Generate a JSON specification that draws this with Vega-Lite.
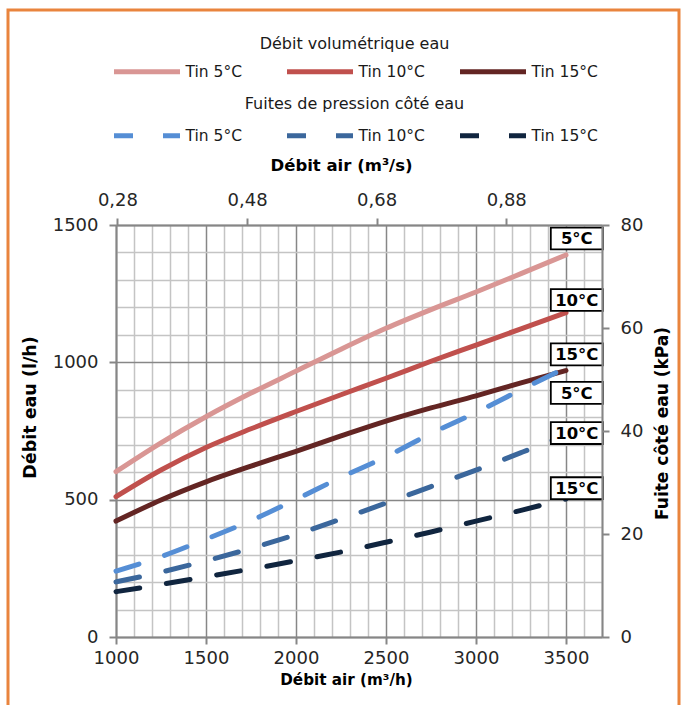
{
  "$schema": "https://vega.github.io/schema/vega-lite/v6.json",
  "width": 671,
  "height": 695,
  "autosize": "none",
  "padding": {"left": 8, "top": 10, "right": 7, "bottom": 1},
  "background": "white",
  "config": {
    "font": "DejaVu Sans",
    "view": {"stroke": "#E9843D", "strokeWidth": 3, "strokeDash": [1366, 671, 700], "fill": "white"},
    "axis": {
      "labelFont": "DejaVu Sans",
      "labelFontSize": 18,
      "labelColor": "#262626",
      "titleFont": "DejaVu Sans",
      "titleFontSize": 16,
      "titleFontWeight": "bold",
      "titleColor": "black",
      "domainColor": "#868686",
      "domainWidth": 2,
      "tickColor": "#868686",
      "tickWidth": 2,
      "tickSize": 7,
      "labelOverlap": false,
      "labelFlush": false,
      "labelBound": false
    },
    "legend": {
      "labelFont": "DejaVu Sans",
      "titleFont": "DejaVu Sans",
      "labelColor": "#1a1a1a",
      "titleColor": "#1a1a1a",
      "titleLimit": 600,
      "labelLimit": 300,
      "padding": 0
    }
  },
  "datasets": {
    "water": [
      {"serie": "Tin 5°C", "air_h": 1000, "debit": 602},
      {"serie": "Tin 5°C", "air_h": 1250, "debit": 707},
      {"serie": "Tin 5°C", "air_h": 1500, "debit": 802},
      {"serie": "Tin 5°C", "air_h": 1750, "debit": 888},
      {"serie": "Tin 5°C", "air_h": 2000, "debit": 968},
      {"serie": "Tin 5°C", "air_h": 2250, "debit": 1048},
      {"serie": "Tin 5°C", "air_h": 2500, "debit": 1124},
      {"serie": "Tin 5°C", "air_h": 2750, "debit": 1192},
      {"serie": "Tin 5°C", "air_h": 3000, "debit": 1256},
      {"serie": "Tin 5°C", "air_h": 3250, "debit": 1323},
      {"serie": "Tin 5°C", "air_h": 3500, "debit": 1391},
      {"serie": "Tin 10°C", "air_h": 1000, "debit": 511},
      {"serie": "Tin 10°C", "air_h": 1250, "debit": 608},
      {"serie": "Tin 10°C", "air_h": 1500, "debit": 690},
      {"serie": "Tin 10°C", "air_h": 1750, "debit": 758},
      {"serie": "Tin 10°C", "air_h": 2000, "debit": 821},
      {"serie": "Tin 10°C", "air_h": 2250, "debit": 882},
      {"serie": "Tin 10°C", "air_h": 2500, "debit": 942},
      {"serie": "Tin 10°C", "air_h": 2750, "debit": 1004},
      {"serie": "Tin 10°C", "air_h": 3000, "debit": 1063},
      {"serie": "Tin 10°C", "air_h": 3250, "debit": 1122},
      {"serie": "Tin 10°C", "air_h": 3500, "debit": 1181},
      {"serie": "Tin 15°C", "air_h": 1000, "debit": 422},
      {"serie": "Tin 15°C", "air_h": 1250, "debit": 499},
      {"serie": "Tin 15°C", "air_h": 1500, "debit": 565},
      {"serie": "Tin 15°C", "air_h": 1750, "debit": 622},
      {"serie": "Tin 15°C", "air_h": 2000, "debit": 676},
      {"serie": "Tin 15°C", "air_h": 2250, "debit": 732},
      {"serie": "Tin 15°C", "air_h": 2500, "debit": 786},
      {"serie": "Tin 15°C", "air_h": 2750, "debit": 834},
      {"serie": "Tin 15°C", "air_h": 3000, "debit": 878},
      {"serie": "Tin 15°C", "air_h": 3250, "debit": 925},
      {"serie": "Tin 15°C", "air_h": 3500, "debit": 970}
    ],
    "pressure": [
      {"serie": "Tin 5°C", "air_s": 0.2778, "kpa": 12.8},
      {"serie": "Tin 5°C", "air_s": 0.3472, "kpa": 15.6},
      {"serie": "Tin 5°C", "air_s": 0.4167, "kpa": 19.0},
      {"serie": "Tin 5°C", "air_s": 0.4861, "kpa": 22.6},
      {"serie": "Tin 5°C", "air_s": 0.5556, "kpa": 26.7},
      {"serie": "Tin 5°C", "air_s": 0.6250, "kpa": 31.0},
      {"serie": "Tin 5°C", "air_s": 0.6944, "kpa": 35.0},
      {"serie": "Tin 5°C", "air_s": 0.7639, "kpa": 39.5},
      {"serie": "Tin 5°C", "air_s": 0.8333, "kpa": 43.6},
      {"serie": "Tin 5°C", "air_s": 0.9028, "kpa": 48.0},
      {"serie": "Tin 5°C", "air_s": 0.9722, "kpa": 52.3},
      {"serie": "Tin 10°C", "air_s": 0.2778, "kpa": 10.7},
      {"serie": "Tin 10°C", "air_s": 0.3472, "kpa": 12.6},
      {"serie": "Tin 10°C", "air_s": 0.4167, "kpa": 14.8},
      {"serie": "Tin 10°C", "air_s": 0.4861, "kpa": 17.2},
      {"serie": "Tin 10°C", "air_s": 0.5556, "kpa": 19.9},
      {"serie": "Tin 10°C", "air_s": 0.6250, "kpa": 22.9},
      {"serie": "Tin 10°C", "air_s": 0.6944, "kpa": 26.0},
      {"serie": "Tin 10°C", "air_s": 0.7639, "kpa": 29.2},
      {"serie": "Tin 10°C", "air_s": 0.8333, "kpa": 32.4},
      {"serie": "Tin 10°C", "air_s": 0.9028, "kpa": 35.8},
      {"serie": "Tin 10°C", "air_s": 0.9722, "kpa": 39.2},
      {"serie": "Tin 15°C", "air_s": 0.2778, "kpa": 8.8},
      {"serie": "Tin 15°C", "air_s": 0.3472, "kpa": 10.2},
      {"serie": "Tin 15°C", "air_s": 0.4167, "kpa": 11.7},
      {"serie": "Tin 15°C", "air_s": 0.4861, "kpa": 13.2},
      {"serie": "Tin 15°C", "air_s": 0.5556, "kpa": 14.8},
      {"serie": "Tin 15°C", "air_s": 0.6250, "kpa": 16.5},
      {"serie": "Tin 15°C", "air_s": 0.6944, "kpa": 18.4},
      {"serie": "Tin 15°C", "air_s": 0.7639, "kpa": 20.4},
      {"serie": "Tin 15°C", "air_s": 0.8333, "kpa": 22.5},
      {"serie": "Tin 15°C", "air_s": 0.9028, "kpa": 24.6},
      {"serie": "Tin 15°C", "air_s": 0.9722, "kpa": 26.8}
    ],
    "wlabels": [
      {"label": "5°C", "air_h": 3560, "debit": 1451},
      {"label": "10°C", "air_h": 3560, "debit": 1227},
      {"label": "15°C", "air_h": 3560, "debit": 1029}
    ],
    "plabels": [
      {"label": "5°C", "air_s": 0.9889, "kpa": 47.4},
      {"label": "10°C", "air_s": 0.9889, "kpa": 39.6},
      {"label": "15°C", "air_s": 0.9889, "kpa": 28.9}
    ]
  },
  "layer": [
    {
      "data": {"name": "water"},
      "mark": {"type": "line", "strokeWidth": 5, "strokeCap": "round", "interpolate": "monotone"},
      "encoding": {
        "x": {
          "field": "air_h", "type": "quantitative",
          "scale": {"domain": [1000, 3700], "range": [108, 594], "nice": false, "zero": false},
          "axis": {
            "orient": "top", "offset": -215, "zindex": 0,
            "values": [1000,1100,1200,1300,1400,1500,1600,1700,1800,1900,2000,2100,2200,2300,2400,2500,2600,2700,2800,2900,3000,3100,3200,3300,3400,3500,3600,3700],
            "grid": true, "gridWidth": 1.5,
            "gridColor": {"condition": {"test": "datum.value % 500 === 0", "value": "#878787"}, "value": "#C4C4C4"},
            "labels": false, "ticks": false, "domain": false, "title": null
          }
        },
        "y": {
          "field": "debit", "type": "quantitative",
          "scale": {"domain": [0, 1500], "range": [627, 215], "nice": false, "zero": true},
          "axis": {
            "orient": "left", "offset": -108, "zindex": 0,
            "values": [0,100,200,300,400,500,600,700,800,900,1000,1100,1200,1300,1400,1500],
            "grid": true, "gridWidth": 1.5,
            "gridColor": {"condition": {"test": "datum.value % 500 === 0", "value": "#878787"}, "value": "#C4C4C4"},
            "tickOpacity": {"condition": {"test": "datum.value % 500 === 0", "value": 1}, "value": 0},
            "labelExpr": "datum.value % 500 === 0 ? format(datum.value, 'd') : ''",
            "labelPadding": 11,
            "title": "Débit eau (l/h)", "titlePadding": 13, "titleFontSize": 17.5, "titleY": 397
          }
        },
        "color": {
          "field": "serie", "type": "nominal",
          "scale": {"domain": ["Tin 5°C", "Tin 10°C", "Tin 15°C"], "range": ["#D99694", "#C0504D", "#632523"]},
          "legend": {
            "title": "Débit volumétrique eau", "orient": "none", "legendX": 103.5, "legendY": 26,
            "direction": "horizontal", "columns": 3, "gridAlign": "all", "columnPadding": 24,
            "symbolType": "stroke", "symbolSize": 4356, "symbolStrokeWidth": 5,
            "labelFontSize": 15.5, "labelOffset": 3,
            "titleFontSize": 16, "titleFontWeight": "normal", "titleAnchor": "middle", "titlePadding": -16
          }
        }
      }
    },
    {
      "encoding": {
        "x": {
          "field": "air_s", "type": "quantitative",
          "scale": {"domain": [0.277778, 1.027778], "range": [108, 594], "nice": false, "zero": false},
          "axis": {
            "orient": "top", "offset": -215, "zindex": 1,
            "values": [0.28, 0.48, 0.68, 0.88],
            "labelExpr": "replace(format(datum.value, '.2f'), '.', ',')",
            "grid": false, "labelPadding": 9,
            "title": "Débit air (m³/s)", "titlePadding": 18, "titleFontSize": 16.5, "titleX": 333
          }
        },
        "y": {
          "field": "kpa", "type": "quantitative",
          "scale": {"domain": [0, 80], "range": [627, 215], "nice": false, "zero": true},
          "axis": {
            "orient": "right", "offset": -77, "zindex": 1,
            "values": [0, 20, 40, 60, 80],
            "grid": false, "labelPadding": 11,
            "title": "Fuite côté eau (kPa)", "titlePadding": 12, "titleFontSize": 17, "titleY": 413,
            "titleAngle": 270, "titleBaseline": "top"
          }
        }
      },
      "layer": [
        {
          "data": {"name": "pressure"},
          "mark": {"type": "line", "strokeWidth": 5, "strokeCap": "round", "strokeDash": [24, 27], "interpolate": "monotone"},
          "encoding": {
            "color": {
              "field": "serie", "type": "nominal",
              "scale": {"domain": ["Tin 5°C", "Tin 10°C", "Tin 15°C"], "range": ["#558ED5", "#3B679C", "#10253F"]},
              "legend": {
                "title": "Fuites de pression côté eau", "orient": "none", "legendX": 103.5, "legendY": 86,
                "direction": "horizontal", "columns": 3, "gridAlign": "all", "columnPadding": 24,
                "symbolType": "stroke", "symbolSize": 4356, "symbolStrokeWidth": 5, "symbolDash": [19, 30],
                "labelFontSize": 15.5, "labelOffset": 3,
                "titleFontSize": 16, "titleFontWeight": "normal", "titleAnchor": "middle", "titlePadding": -12
              }
            }
          }
        },
        {
          "data": {"name": "plabels"},
          "mark": {"type": "point", "shape": "M-1,-0.42H1V0.42H-1Z", "size": 2704, "filled": true, "fill": "white", "stroke": "black", "strokeWidth": 1.8, "opacity": 1}
        },
        {
          "data": {"name": "plabels"},
          "mark": {"type": "text", "fontWeight": "bold", "fontSize": 16.5, "align": "center", "baseline": "middle", "color": "black", "dy": 1},
          "encoding": {"text": {"field": "label"}}
        }
      ]
    },
    {
      "data": {"name": "wlabels"},
      "encoding": {
        "x": {
          "field": "air_h", "type": "quantitative",
          "scale": {"domain": [1000, 3700], "range": [108, 594], "nice": false, "zero": false},
          "axis": {
            "orient": "bottom", "offset": -68, "zindex": 1,
            "values": [1000, 1500, 2000, 2500, 3000, 3500],
            "format": "d",
            "grid": false, "labelPadding": 5,
            "title": "Débit air (m³/h)", "titlePadding": 5, "titleFontSize": 15.2, "titleX": 338
          }
        },
        "y": {
          "field": "debit", "type": "quantitative",
          "scale": {"domain": [0, 1500], "range": [627, 215], "nice": false, "zero": true},
          "axis": null
        }
      },
      "layer": [
        {
          "mark": {"type": "point", "shape": "M-1,-0.42H1V0.42H-1Z", "size": 2704, "filled": true, "fill": "white", "stroke": "black", "strokeWidth": 1.8, "opacity": 1}
        },
        {
          "mark": {"type": "text", "fontWeight": "bold", "fontSize": 16.5, "align": "center", "baseline": "middle", "color": "black", "dy": 1},
          "encoding": {"text": {"field": "label"}}
        }
      ]
    }
  ],
  "resolve": {"scale": {"x": "independent", "y": "independent", "color": "independent"}}
}
